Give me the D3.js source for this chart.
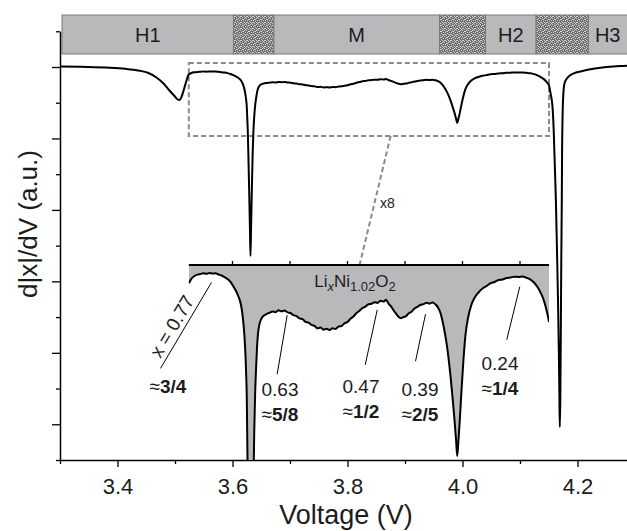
<!DOCTYPE html>
<html><head><meta charset="utf-8">
<script src="https://cdn.jsdelivr.net/npm/d3@7"></script>
<style>
html,body{margin:0;padding:0;background:#fff;}
svg{display:block;font-family:"Liberation Sans",Arial,Helvetica,sans-serif;}
</style></head><body>
<svg id="chart" width="627" height="531"></svg>
<script>
// Differential curve d|x|/dV versus cell voltage (arbitrary units, baseline = 0)
const voltage = [
  3.300,3.336,3.379,3.414,3.4365,3.4539,3.4678,3.480,3.4904,3.4991,3.5052,3.5078,3.5113,3.5157,3.5200,
  3.5240,3.5287,3.5339,3.5391,3.5443,3.5496,3.5548,3.5600,3.5652,3.5704,3.5757,3.5809,3.5861,3.5913,3.5965,
  3.6017,3.6070,3.6113,3.6148,3.6174,3.6197,3.6217,3.6235,3.6249,3.6257,3.6266,3.6278,3.6292,3.6304,3.6313,
  3.6323,3.6337,3.6351,3.6365,3.6379,3.6393,3.6409,3.6426,3.6443,3.6470,3.6504,3.6548,3.6591,3.6643,3.6696,
  3.6748,3.6800,3.6852,3.6904,3.6957,3.7009,3.7061,3.7113,3.7165,3.7217,3.7270,3.7322,3.7374,3.7426,3.7478,
  3.7530,3.7583,3.7635,3.7687,3.7739,3.7791,3.7843,3.7896,3.7948,3.8000,3.8052,3.8104,3.8157,3.8209,3.8261,
  3.8313,3.8365,3.8417,3.8470,3.8522,3.8574,3.8626,3.8670,3.8713,3.8757,3.8800,3.8843,3.8887,3.8930,3.8974,
  3.9017,3.9061,3.9113,3.9165,3.9217,3.9270,3.9322,3.9374,3.9426,3.9478,3.9530,3.9574,3.9617,3.9652,3.9687,
  3.9722,3.9757,3.9791,3.9826,3.9861,3.9889,3.9908,3.9927,3.9953,3.9983,4.0014,4.0052,4.0096,4.0148,4.0209,
  4.0278,4.0348,4.0417,4.0487,4.0557,4.0626,4.0696,4.0765,4.0835,4.0904,4.0974,4.1043,4.1113,4.1183,4.1243,
  4.1304,4.1357,4.1409,4.1452,4.1487,4.1504,4.1530,4.1565,4.1586,4.1605,4.1624,4.1643,4.1661,4.1675,4.1685,
  4.1692,4.1701,4.1710,4.1718,4.1727,4.1732,4.1739,4.1751,4.1774,4.1831,4.1936,4.2070,4.2226,4.2400,4.2574,
  4.2748,4.2922
];
const dxdv = [
  0.015,0.006,-0.017,-0.050,-0.098,-0.168,-0.294,-0.462,-0.658,-0.812,-0.915,-0.924,-0.840,-0.616,-0.378,
  -0.205,-0.168,-0.148,-0.137,-0.132,-0.126,-0.131,-0.124,-0.129,-0.127,-0.136,-0.144,-0.156,-0.172,-0.195,
  -0.231,-0.274,-0.321,-0.377,-0.455,-0.558,-0.692,-0.889,-1.126,-1.441,-1.80,-2.60,-3.60,-4.60,-5.29,
  -4.50,-3.40,-2.40,-1.75,-1.362,-1.086,-0.889,-0.716,-0.605,-0.526,-0.483,-0.459,-0.448,-0.438,-0.428,
  -0.433,-0.419,-0.426,-0.421,-0.435,-0.440,-0.457,-0.464,-0.482,-0.488,-0.509,-0.515,-0.534,-0.542,-0.560,
  -0.555,-0.571,-0.564,-0.574,-0.561,-0.565,-0.547,-0.542,-0.522,-0.511,-0.485,-0.467,-0.440,-0.422,-0.400,
  -0.389,-0.370,-0.367,-0.354,-0.360,-0.343,-0.350,-0.336,-0.365,-0.388,-0.418,-0.444,-0.470,-0.481,-0.471,
  -0.464,-0.444,-0.430,-0.405,-0.391,-0.375,-0.370,-0.359,-0.366,-0.356,-0.372,-0.396,-0.440,-0.503,-0.582,
  -0.676,-0.795,-0.936,-1.102,-1.284,-1.449,-1.567,-1.464,-1.284,-1.047,-0.826,-0.613,-0.479,-0.384,-0.321,
  -0.278,-0.247,-0.227,-0.205,-0.195,-0.179,-0.175,-0.164,-0.160,-0.153,-0.155,-0.151,-0.162,-0.176,-0.199,
  -0.235,-0.278,-0.333,-0.400,-0.467,-0.511,-0.728,-1.111,-1.763,-2.743,-3.722,-5.122,-6.521,-7.921,-9.180,
  -10.076,-9.320,-7.361,-5.402,-3.722,-2.323,-1.483,-0.831,-0.456,-0.288,-0.176,-0.120,-0.064,-0.022,0.006,
  0.028,0.039
];

// Structural phases along the voltage axis ("" = two-phase region)
const phaseNames = ["H1", "", "M", "", "H2", "", "H3"];
const phaseFrom  = [3.3035, 3.6017, 3.672, 3.960, 4.040, 4.128, 4.219];
const phaseTo    = [3.6017, 3.672, 3.960, 4.040, 4.128, 4.219, 4.300];

// Axis ticks
const xMajorTicks = [3.4, 3.6, 3.8, 4.0, 4.2];
const xMinorTicks = [3.3, 3.5, 3.7, 3.9, 4.1, 4.3];
const yMajorTicks = [0, -2, -4, -6, -8, -10];
const yMinorTicks = [1, -1, -3, -5, -7, -9, -11];
const insetTicks  = [3.6, 3.7, 3.8, 3.9, 4.0, 4.1];

// Magnified window
const zoomFrom = 3.524, zoomTo = 4.1504;
const zoomLabel = "x8";

// Ordered Li contents at the local maxima
const annotX    = ["0.77", "0.63", "0.47", "0.39", "0.24"];
const annotFrac = ["3/4", "5/8", "1/2", "2/5", "1/4"];
const annotV    = [3.5635, 3.6951, 3.8517, 3.9357, 4.0996];

const data = voltage.map((v, i) => ({v, val: dxdv[i]}));

const svg = d3.select("#chart");
const W = 627;
const x = d3.scaleLinear().domain([3.3, 4.3]).range([60, 635]);
const y = d3.scaleLinear().domain([-11, 1]).range([460, 31.27]);
const yIn = d3.scaleLinear().domain([-1.5994, -0.0611]).range([460, 265]);
const textCol = "#1c1c1c";

// ---- stipple pattern for two-phase regions
const defs = svg.append("defs");
const pat = defs.append("pattern").attr("id", "stipple")
  .attr("width", 6).attr("height", 6).attr("patternUnits", "userSpaceOnUse");
pat.append("rect").attr("width", 6).attr("height", 6).attr("fill", "#6e6e6e");
[[0,0],[2,1],[4,0],[1,2],[3,3],[5,2],[0,4],[2,5],[4,4],[5,5],[1,4],[3,1]].forEach(([px, py]) =>
  pat.append("rect").attr("x", px).attr("y", py).attr("width", 1).attr("height", 1).attr("fill", "#d4d4d4"));

// ---- phase bar
const barTop = 15, barBot = 54;
const phases = phaseNames.map((n, i) => ({n, a: phaseFrom[i], b: phaseTo[i]}));
const bar = svg.append("g");
bar.selectAll("rect").data(phases).join("rect")
  .attr("x", d => x(d.a)).attr("y", barTop)
  .attr("width", d => x(d.b) - x(d.a)).attr("height", barBot - barTop)
  .attr("fill", d => d.n ? "#b9b9bc" : "url(#stipple)")
  .attr("stroke", "#7a7a7a").attr("stroke-width", 1);
bar.selectAll("text").data(phases.filter(d => d.n)).join("text")
  .attr("x", d => (x(d.a) + Math.min(x(d.b), W)) / 2)
  .attr("y", (barTop + barBot) / 2 + 7)
  .attr("text-anchor", "middle").attr("font-size", 20).attr("fill", textCol)
  .text(d => d.n);

// ---- axes
const xAxisG = svg.append("g").attr("transform", "translate(0,460)");
xAxisG.call(d3.axisBottom(x).tickValues(xMinorTicks).tickSize(4).tickSizeOuter(0).tickFormat(""));
xAxisG.call(g => g.append("g").call(d3.axisBottom(x).tickValues(xMajorTicks).tickSize(7)
  .tickPadding(11).tickFormat(d3.format(".1f"))));
const yAxisG = svg.append("g").attr("transform", "translate(60,0)");
yAxisG.call(d3.axisLeft(y).tickValues(yMinorTicks).tickSize(4).tickSizeOuter(0).tickFormat(""));
yAxisG.call(g => g.append("g").call(d3.axisLeft(y).tickValues(yMajorTicks).tickSize(8).tickFormat("")));
svg.selectAll(".domain").attr("stroke", "#000").attr("stroke-width", 1.5);
svg.selectAll(".tick line").attr("stroke", "#000").attr("stroke-width", 1.3);
xAxisG.selectAll("g g .domain").remove();
yAxisG.selectAll("g g .domain").remove();
xAxisG.selectAll("text").attr("font-size", 22).attr("fill", textCol)
  .attr("font-family", "Liberation Sans, Arial, sans-serif");

svg.append("text").attr("x", 346).attr("y", 524).attr("text-anchor", "middle")
  .attr("font-size", 27).attr("fill", textCol).text("Voltage (V)");
svg.append("text").attr("transform", "translate(37,224) rotate(-90)").attr("text-anchor", "middle")
  .attr("font-size", 26).attr("fill", textCol).text("d|x|/dV (a.u.)");

// ---- dashed window on the main curve
const boxTop = y(0.11), boxBot = y(-1.93);
const dashStyle = s => s.attr("fill", "none").attr("stroke", "#8a8a8a")
  .attr("stroke-width", 2).attr("stroke-dasharray", "5,3");
svg.append("rect").attr("x", x(zoomFrom)).attr("y", boxTop)
  .attr("width", x(zoomTo) - x(zoomFrom)).attr("height", boxBot - boxTop).call(dashStyle);

// ---- main curve
const line = d3.line().x(d => x(d.v)).y(d => y(d.val)).curve(d3.curveMonotoneX);
svg.append("path").datum(data).attr("d", line)
  .attr("fill", "none").attr("stroke", "#000").attr("stroke-width", 2).attr("stroke-linejoin", "round");

// ---- connector to the magnified view
const insetTop = yIn.range()[1];
svg.append("line").attr("x1", x(3.875)).attr("y1", boxBot).attr("x2", x(3.821)).attr("y2", insetTop).call(dashStyle);
svg.append("text").attr("x", 380).attr("y", 208).attr("font-size", 14).attr("fill", textCol).text(zoomLabel);

// ---- magnified view
defs.append("clipPath").attr("id", "insetClip").append("rect")
  .attr("x", x(zoomFrom)).attr("y", insetTop)
  .attr("width", x(zoomTo) - x(zoomFrom)).attr("height", 460 - insetTop);
const zoomData = data.filter(d => d.v >= zoomFrom && d.v <= zoomTo);
const inset = svg.append("g").attr("clip-path", "url(#insetClip)");
inset.append("path").datum(zoomData)
  .attr("d", d3.area().x(d => x(d.v)).y0(insetTop).y1(d => yIn(d.val)).curve(d3.curveMonotoneX))
  .attr("fill", "#b9b9bc");
inset.append("path").datum(zoomData)
  .attr("d", d3.line().x(d => x(d.v)).y(d => yIn(d.val)).curve(d3.curveMonotoneX))
  .attr("fill", "none").attr("stroke", "#000").attr("stroke-width", 2);
svg.append("line").attr("x1", x(zoomFrom)).attr("x2", x(zoomTo)).attr("y1", insetTop).attr("y2", insetTop)
  .attr("stroke", "#000").attr("stroke-width", 2);
svg.selectAll(".itick").data(insetTicks).join("line").attr("class", "itick")
  .attr("x1", d => x(d)).attr("x2", d => x(d)).attr("y1", insetTop).attr("y2", insetTop - 4)
  .attr("stroke", "#000").attr("stroke-width", 1.3);

const formula = svg.append("text").attr("x", 355).attr("y", 287).attr("text-anchor", "middle")
  .attr("font-size", 17).attr("fill", textCol);
formula.append("tspan").text("Li");
formula.append("tspan").attr("font-size", 13).attr("font-style", "italic").attr("dy", 4).text("x");
formula.append("tspan").attr("dy", -4).text("Ni");
formula.append("tspan").attr("font-size", 13).attr("dy", 4).text("1.02");
formula.append("tspan").attr("dy", -4).text("O");
formula.append("tspan").attr("font-size", 13).attr("dy", 4).text("2");

// ---- annotations of the ordered compositions
const bis = d3.bisector(d => d.v).left;
function valAt(v) {
  const i = Math.max(1, bis(data, v));
  const a = data[i - 1], b = data[i];
  return a.val + (b.val - a.val) * (v - a.v) / (b.v - a.v);
}
// leader: gap below the curve, end offset; label anchor
const leaderGap = [9, 3, 7, 11, 10];
const leaderEnd = [[-51, 86], [-10, 59], [-12, 55], [-10, 47], [-13, 53]];
const labelPos  = [null, [280, 396], [361, 393], [420, 396], [500, 370]];
annotV.forEach((v, i) => {
  const x0 = x(v), y0 = yIn(valAt(v)) + leaderGap[i];
  const x1 = x0 + leaderEnd[i][0], y1 = y0 + leaderEnd[i][1];
  svg.append("line").attr("x1", x0).attr("y1", y0).attr("x2", x1).attr("y2", y1)
    .attr("stroke", "#000").attr("stroke-width", 1);
  if (i === 0) {
    const ang = Math.atan2(y0 - y1, x0 - x1) * 180 / Math.PI;
    const t = 0.42, px = x1 + (x0 - x1) * t, py = y1 + (y0 - y1) * t;
    svg.append("text").attr("transform", `translate(${px},${py}) rotate(${ang})`)
      .attr("y", -5).attr("text-anchor", "middle").attr("font-size", 19).attr("fill", textCol)
      .text("x = " + annotX[i]);
    const f = svg.append("text").attr("x", 168).attr("y", 393).attr("text-anchor", "middle")
      .attr("font-size", 19).attr("fill", textCol);
    f.append("tspan").text("\u2248");
    f.append("tspan").attr("font-weight", "bold").text(annotFrac[i]);
  } else {
    const [lx, ly] = labelPos[i];
    svg.append("text").attr("x", lx).attr("y", ly).attr("text-anchor", "middle")
      .attr("font-size", 19).attr("fill", textCol).text(annotX[i]);
    const f = svg.append("text").attr("x", lx).attr("y", ly + 25).attr("text-anchor", "middle")
      .attr("font-size", 19).attr("fill", textCol);
    f.append("tspan").text("\u2248");
    f.append("tspan").attr("font-weight", "bold").text(annotFrac[i]);
  }
});
</script>
</body></html>
